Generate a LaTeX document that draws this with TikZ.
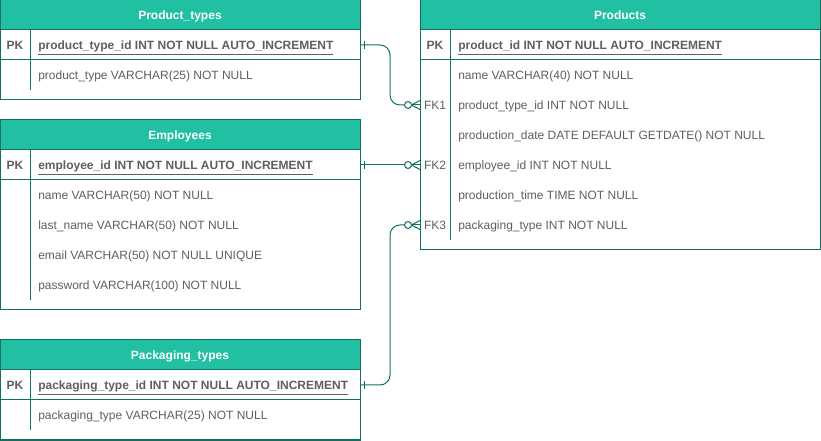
\documentclass[tikz,border=0pt]{standalone}
\usepackage{fontspec}
\setmainfont{Liberation Sans}
\usetikzlibrary{calc}
\definecolor{hdrteal}{RGB}{33,192,163}
\definecolor{bordteal}{RGB}{18,112,98}
\definecolor{txtgray}{RGB}{95,95,95}
\begin{document}
\begin{tikzpicture}[x=0.75pt,y=-0.75pt,
  tbl/.style={draw=bordteal,line width=0.75pt},
  hdrbox/.style={fill=hdrteal,draw=bordteal,line width=0.75pt},
  hdrtxt/.style={text=white,font=\fontsize{9}{11}\selectfont\bfseries,inner sep=0pt,anchor=base},
  keytxt/.style={text=txtgray,font=\fontsize{9}{11}\selectfont\bfseries,inner sep=0pt,anchor=base},
  fktxt/.style={text=txtgray,font=\fontsize{9}{11}\selectfont,inner sep=0pt,anchor=base},
  pktxt/.style={text=txtgray,font=\fontsize{9}{11}\selectfont\bfseries,inner sep=0pt,anchor=base west},
  fldtxt/.style={text=txtgray,font=\fontsize{9}{11}\selectfont,inner sep=0pt,anchor=base west},
  conn/.style={draw=bordteal,line width=0.75pt},
]
\useasboundingbox (0,0) rectangle (821,441);
\fill[white] (0,0) rectangle (821,441);

% ---------- Product_types ----------
\draw[tbl] (0,0) rectangle (360,100);
\draw[hdrbox] (0,0) rectangle (360,30);
\draw[tbl] (0,60) -- (360,60);
\draw[tbl] (30,30) -- (30,90);
\node[hdrtxt] (pthdr) at (180,19.5) {Product\_types};
\node[keytxt] (ptpkl) at (15,49.5) {PK};
\node[pktxt] (ptpk) at (38,49.5) {\underline{product\_type\_id INT NOT NULL AUTO\_INCREMENT}};
\node[fldtxt] (ptf1) at (38,79.5) {product\_type VARCHAR(25) NOT NULL};
\coordinate (ptE) at (360,45);

% ---------- Employees ----------
\draw[tbl] (0,120) rectangle (360,310);
\draw[hdrbox] (0,120) rectangle (360,150);
\draw[tbl] (0,180) -- (360,180);
\draw[tbl] (30,150) -- (30,300);
\node[hdrtxt] (emhdr) at (180,139.5) {Employees};
\node[keytxt] (empkl) at (15,169.5) {PK};
\node[pktxt] (empk) at (38,169.5) {\underline{employee\_id INT NOT NULL AUTO\_INCREMENT}};
\node[fldtxt] (emf1) at (38,199.5) {name VARCHAR(50) NOT NULL};
\node[fldtxt] (emf2) at (38,229.5) {last\_name VARCHAR(50) NOT NULL};
\node[fldtxt] (emf3) at (38,259.5) {email VARCHAR(50) NOT NULL UNIQUE};
\node[fldtxt] (emf4) at (38,289.5) {password VARCHAR(100) NOT NULL};
\coordinate (emE) at (360,165);

% ---------- Packaging_types ----------
\draw[tbl] (0,340) rectangle (360,440);
\draw[hdrbox] (0,340) rectangle (360,370);
\draw[tbl] (0,400) -- (360,400);
\draw[tbl] (30,370) -- (30,430);
\node[hdrtxt] (pkhdr) at (180,359.5) {Packaging\_types};
\node[keytxt] (pkpkl) at (15,389.5) {PK};
\node[pktxt] (pkpk) at (38,389.5) {\underline{packaging\_type\_id INT NOT NULL AUTO\_INCREMENT}};
\node[fldtxt] (pkf1) at (38,419.5) {packaging\_type VARCHAR(25) NOT NULL};
\coordinate (pkE) at (360,385);

% ---------- Products ----------
\draw[tbl] (420,0) rectangle (820,250);
\draw[hdrbox] (420,0) rectangle (820,30);
\draw[tbl] (420,60) -- (820,60);
\draw[tbl] (450,30) -- (450,240);
\node[hdrtxt] (prhdr) at (620,19.5) {Products};
\node[keytxt] (prpkl) at (435,49.5) {PK};
\node[pktxt] (prpk) at (458,49.5) {\underline{product\_id INT NOT NULL AUTO\_INCREMENT}};
\node[fldtxt] (prf1) at (458,79.5) {name VARCHAR(40) NOT NULL};
\node[fktxt] (prfk1) at (435,109.5) {FK1};
\node[fldtxt] (prf2) at (458,109.5) {product\_type\_id INT NOT NULL};
\node[fldtxt] (prf3) at (458,139.5) {production\_date DATE DEFAULT GETDATE() NOT NULL};
\node[fktxt] (prfk2) at (435,169.5) {FK2};
\node[fldtxt] (prf4) at (458,169.5) {employee\_id INT NOT NULL};
\node[fldtxt] (prf5) at (458,199.5) {production\_time TIME NOT NULL};
\node[fktxt] (prfk3) at (435,229.5) {FK3};
\node[fldtxt] (prf6) at (458,229.5) {packaging\_type INT NOT NULL};
\coordinate (fk1W) at (420,105);
\coordinate (fk2W) at (420,165);
\coordinate (fk3W) at (420,225);

% ---------- Connectors ----------
\coordinate (c1e) at ($(fk1W)+(-15.5,0)$);
\coordinate (c2e) at ($(fk2W)+(-15.5,0)$);
\coordinate (c3e) at ($(fk3W)+(-15.5,0)$);
\draw[conn,rounded corners=7.5pt] (ptE) -- (390,45) -- (390,105) -- (c1e);
\draw[conn] (emE) -- (c2e);
\draw[conn,rounded corners=7.5pt] (pkE) -- (390,385) -- (390,225) -- (c3e);

% one marks
\foreach \c in {ptE,emE,pkE}{
  \draw[conn] ($(\c)+(4,-4)$) -- ($(\c)+(4,4)$);
}
% zero-or-many marks
\foreach \c in {fk1W,fk2W,fk3W}{
  \draw[conn,fill=white] ($(\c)+(-12,0)$) circle[radius=3.5*0.75pt];
  \draw[conn] ($(\c)+(-8.5,0)$) -- ($(\c)+(0,-4.5)$);
  \draw[conn] ($(\c)+(-8.5,0)$) -- (\c);
  \draw[conn] ($(\c)+(-8.5,0)$) -- ($(\c)+(0,4.5)$);
}
\end{tikzpicture}
\end{document}
